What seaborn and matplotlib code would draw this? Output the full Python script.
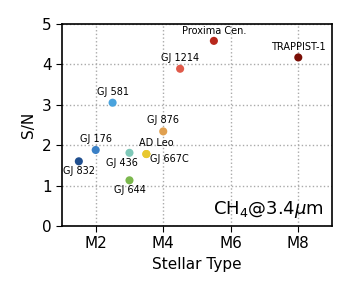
import pandas as pd
import matplotlib
matplotlib.use('Agg')
import matplotlib.pyplot as plt
import seaborn as sns

# data
stars = ['GJ 832', 'GJ 176', 'GJ 581', 'GJ 436', 'GJ 644', 'AD Leo',
         'GJ 667C', 'GJ 876', 'GJ 1214', 'Proxima Cen.', 'TRAPPIST-1']
stellar_type = [1.5, 2.0, 2.5, 3.0, 3.0, 3.5, 3.5, 4.0, 4.5, 5.5, 8.0]
snr = [1.60, 1.88, 3.05, 1.81, 1.13, 1.78, 1.78, 2.34, 3.89, 4.58, 4.17]
colors = ['#1f4e8e', '#3a80c6', '#4aa3dd', '#7ec8b8', '#7cb84e', '#e8c830',
          '#e8c830', '#e0a050', '#e05a4a', '#b8281c', '#7a0e06']
# label offsets in pixels (dx, dy) and horizontal alignment
label_dx = [0, 0, 0, -8, 0, 10, 4, 0, 0, 0, 0]
label_dy = [-10, 11, 11, -10, -10, 11, -5, 11, 11, 10, 10]
label_ha = ['center'] * 6 + ['left'] + ['center'] * 4

xticks = [2, 4, 6, 8]
xticklabels = ['M2', 'M4', 'M6', 'M8']

df = pd.DataFrame({'star': stars, 'type': stellar_type, 'snr': snr})

sns.set_style('ticks', {'text.color': 'black', 'axes.labelcolor': 'black',
                        'xtick.color': 'black', 'ytick.color': 'black',
                        'axes.edgecolor': 'black'})
fig = plt.figure(figsize=(3.54, 2.95), dpi=100)
ax = fig.add_axes([0.175, 0.234, 0.763, 0.685])

sns.scatterplot(data=df, x='type', y='snr', hue='star',
                palette=dict(zip(stars, colors)), s=34, edgecolor='none',
                legend=False, ax=ax, zorder=3)

for i, name in enumerate(stars):
    ax.annotate(name, (stellar_type[i], snr[i]), xytext=(label_dx[i], label_dy[i]),
                textcoords='offset pixels', ha=label_ha[i], va='center',
                fontsize=7, color='black')

ax.text(0.97, 0.08, r'CH$_4$@3.4$\mu$m', transform=ax.transAxes,
        ha='right', va='center', fontsize=13, color='black')

ax.set_xlim(1, 9)
ax.set_ylim(0, 5)
ax.set_xticks(xticks)
ax.set_xticklabels(xticklabels)
ax.set_yticks([0, 1, 2, 3, 4, 5])
ax.grid(True, linestyle=':', color='#aaaaaa', linewidth=1)
ax.tick_params(labelsize=11, direction='out', length=4, color='black',
               labelcolor='black')
for sp in ax.spines.values():
    sp.set_color('black')
    sp.set_linewidth(1.2)
ax.set_xlabel('Stellar Type', fontsize=11, color='black')
ax.set_ylabel('S/N', fontsize=11, color='black')

fig.savefig('out.png', dpi=100)
